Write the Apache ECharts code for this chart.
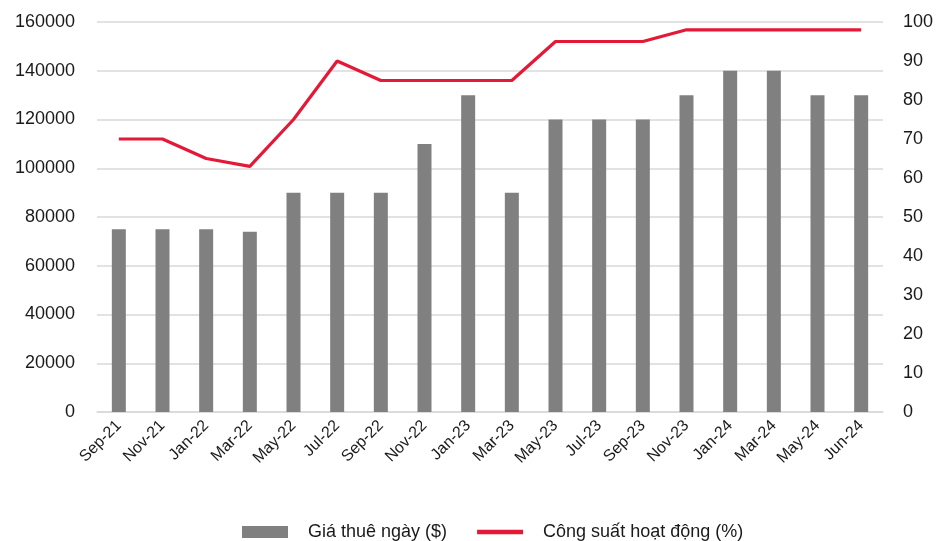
<!DOCTYPE html>
<html>
<head>
<meta charset="utf-8">
<script src="https://cdn.jsdelivr.net/npm/echarts@6/dist/echarts.min.js"></script>
<style>
  html, body { margin: 0; padding: 0; background: #fff; }
  #chart { width: 944px; height: 541px; }
</style>
</head>
<body>
<div id="chart"></div>
<script>
const categories = ['Sep-21','Nov-21','Jan-22','Mar-22','May-22','Jul-22','Sep-22','Nov-22','Jan-23','Mar-23','May-23','Jul-23','Sep-23','Nov-23','Jan-24','Mar-24','May-24','Jun-24'];
const dailyRate = [75000,75000,75000,74000,90000,90000,90000,110000,130000,90000,120000,120000,120000,130000,140000,140000,130000,130000];
const utilization = [70,70,65,63,75,90,85,85,85,85,95,95,95,98,98,98,98,98];
const barName = 'Giá thuê ngày ($)';
const lineName = 'Công suất hoạt động (%)';

const FONT = '"Liberation Sans", Arial, sans-serif';
const TEXT = '#1a1a1a';
const RED = '#e31937';

const chart = echarts.init(document.getElementById('chart'));
chart.setOption({
  animation: false,
  textStyle: { fontFamily: FONT },
  grid: { left: 97, right: 61, top: 22, bottom: 129 },
  legend: {
    top: 518,
    left: 237,
    itemGap: 30,
    itemWidth: 46,
    itemHeight: 12,
    symbolKeepAspect: true,
    textStyle: { fontFamily: FONT, fontSize: 18, color: TEXT, padding: [0, 0, 0, 15] },
    data: [
      { name: barName, icon: 'rect' },
      // thin stroke-like icon for the line series
      { name: lineName, icon: 'path://M0,0 L46,0 L46,4.5 L0,4.5 Z', itemStyle: { color: RED } }
    ]
  },
  xAxis: {
    type: 'category',
    data: categories,
    boundaryGap: true,
    axisLine: { show: true, lineStyle: { color: '#d9d9d9', width: 1.5 } },
    axisTick: { show: false },
    axisLabel: { rotate: 45, fontFamily: FONT, fontSize: 16, color: TEXT, margin: 11, interval: 0 }
  },
  yAxis: [
    {
      type: 'value', min: 0, max: 160000, interval: 20000,
      axisLine: { show: false }, axisTick: { show: false },
      axisLabel: { fontFamily: FONT, fontSize: 18, color: TEXT, margin: 22, formatter: v => String(v) },
      splitLine: { lineStyle: { color: '#d9d9d9', width: 1.5 } }
    },
    {
      type: 'value', min: 0, max: 100, interval: 10,
      axisLine: { show: false }, axisTick: { show: false },
      axisLabel: { fontFamily: FONT, fontSize: 18, color: TEXT, margin: 20 },
      splitLine: { show: false }
    }
  ],
  series: [
    {
      name: barName, type: 'bar', yAxisIndex: 0, data: dailyRate,
      barWidth: 14, itemStyle: { color: '#808080' }
    },
    {
      name: lineName, type: 'line', yAxisIndex: 1, data: utilization,
      symbol: 'none', lineStyle: { color: RED, width: 3.2 }, itemStyle: { color: RED }
    }
  ]
});
</script>
</body>
</html>
